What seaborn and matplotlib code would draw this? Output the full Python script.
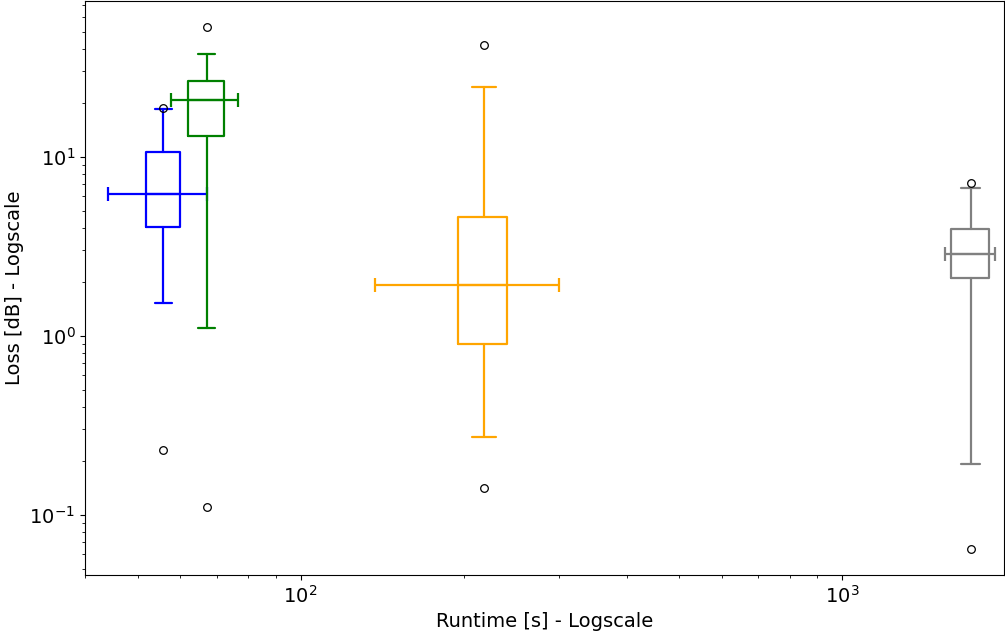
import matplotlib
matplotlib.use("Agg")
import matplotlib.pyplot as plt
import seaborn as sns

# runtime (x) summary per method: median and range drawn as horizontal bar
runtime_median = [55.8, 67.1, 218.3, 1728]
runtime_low = [44.1, 57.6, 137.2, 1546]
runtime_high = [67.2, 76.7, 300.2, 1917]

# loss (y) box statistics per method
loss_q1 = [4.06, 13.1, 0.899, 2.09]
loss_median = [6.17, 20.7, 1.92, 2.86]
loss_q3 = [10.67, 26.4, 4.60, 3.96]
loss_whislo = [1.52, 1.10, 0.272, 0.193]
loss_whishi = [18.4, 37.3, 24.5, 6.66]
loss_fliers = [[18.8, 0.231], [52.8, 0.111], [42.1, 0.141], [7.10, 0.0643]]

colors = ["blue", "green", "orange", "gray"]
box_widths = [8.0, 10.1, 45.4, 284]

sns.set_theme(style="ticks", rc={
    "axes.edgecolor": "black",
    "axes.linewidth": 0.8,
    "xtick.color": "black",
    "ytick.color": "black",
    "text.color": "black",
    "axes.labelcolor": "black",
    "xtick.major.size": 3.5,
    "ytick.major.size": 3.5,
    "xtick.minor.size": 2,
    "ytick.minor.size": 2,
    "xtick.major.width": 0.8,
    "ytick.major.width": 0.8,
    "xtick.minor.width": 0.6,
    "ytick.minor.width": 0.6,
})
plt.rcParams["font.family"] = ["DejaVu Sans"]

fig, ax = plt.subplots(figsize=(10.05, 6.34), dpi=100)
fig.subplots_adjust(left=0.0846, right=0.999, top=0.998, bottom=0.093)
ax.set_xscale("log")
ax.set_yscale("log")

for i, c in enumerate(colors):
    stats = [{
        "med": loss_median[i],
        "q1": loss_q1[i],
        "q3": loss_q3[i],
        "whislo": loss_whislo[i],
        "whishi": loss_whishi[i],
        "fliers": loss_fliers[i],
    }]
    lp = dict(color=c, linewidth=1.6)
    ax.bxp(stats, positions=[runtime_median[i]], widths=[box_widths[i]],
           boxprops=lp, whiskerprops=lp, capprops=lp, medianprops=lp,
           flierprops=dict(marker="o", markerfacecolor="none",
                           markeredgecolor="black", markersize=5.5,
                           markeredgewidth=0.9),
           manage_ticks=False)
    ax.errorbar(runtime_median[i], loss_median[i],
                xerr=[[runtime_median[i] - runtime_low[i]],
                      [runtime_high[i] - runtime_median[i]]],
                fmt="none", ecolor=c, elinewidth=1.6, capsize=4.7,
                capthick=1.6)

ax.set_xlim(40, 1990)
ax.tick_params(labelsize=14)
ax.set_xlabel("Runtime [s] - Logscale", fontsize=14)
ax.set_ylabel("Loss [dB] - Logscale", fontsize=14)

fig.savefig("out.png", dpi=100)
